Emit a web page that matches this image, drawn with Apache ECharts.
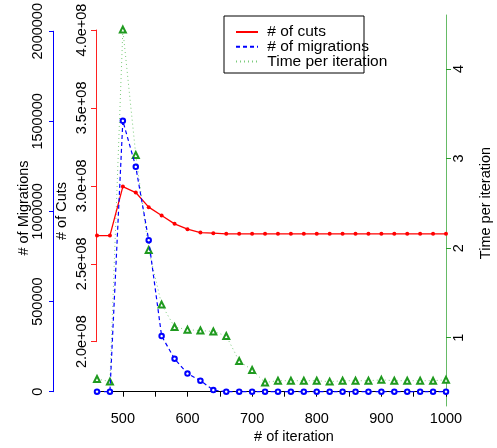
<!DOCTYPE html>
<html>
<head>
<meta charset="utf-8">
<script src="https://cdn.jsdelivr.net/npm/echarts@6/dist/echarts.min.js"></script>
<style>html,body{margin:0;padding:0;background:#fff}#c{width:497px;height:448px}</style>
</head>
<body>
<div id="c"></div>
<script>
var iterations = [460,480,500,520,540,560,580,600,620,640,660,680,700,720,740,760,780,800,820,840,860,880,900,920,940,960,980,1000];
var cuts = [2.681e8,2.681e8,2.9955e8,2.957e8,2.8633e8,2.8094e8,2.7562e8,2.7222e8,2.7003e8,2.6965e8,2.692e8,2.692e8,2.692e8,2.692e8,2.692e8,2.692e8,2.692e8,2.692e8,2.692e8,2.692e8,2.692e8,2.692e8,2.692e8,2.692e8,2.692e8,2.692e8,2.692e8,2.692e8];
var migrations = [0,0,1495000,1241000,836000,307000,182000,100000,61000,9000,0,0,0,0,0,0,0,0,0,0,0,0,0,0,0,0,0,0];
var timePerIter = [0.54,0.51,4.44,3.04,1.98,1.37,1.12,1.09,1.08,1.07,1.02,0.74,0.64,0.50,0.52,0.52,0.52,0.52,0.51,0.52,0.52,0.52,0.53,0.52,0.52,0.52,0.52,0.53];
var xTicks = [500,550,600,650,700,750,800,850,900,950,1000];
var xLabels = [500,600,700,800,900,1000];
var timeTicks = [1,2,3,4];
var seriesNames = ['# of cuts','# of migrations','Time per iteration'];
var titles = {x:'# of iteration', mig:'# of Migrations', cuts:'# of Cuts', time:'Time per iteration'};

var FONT = 'Liberation Sans, Arial, sans-serif';
function pairs(ys){ return iterations.map(function(x,i){return [x, ys[i]];}); }
function plain(v){ return String(v); }

var chart = echarts.init(document.getElementById('c'), null, {renderer:'canvas'});
var labelStyle = {fontSize:14.5, fontFamily:FONT, color:'#000'};
chart.setOption({
  animation:false,
  backgroundColor:'#fff',
  grid:[
    {left:97, right:51, top:15, bottom:42},
    {left:53.5, width:1, top:29.3, height:362.4},
    {left:96.5, width:1, top:30, height:311.7}
  ],
  xAxis:[
    {type:'value', gridIndex:0, min:460, max:1000,
     axisLine:{lineStyle:{color:'#000', width:1}},
     axisTick:{show:true, length:5, customValues:xTicks, lineStyle:{color:'#000'}},
     axisLabel:Object.assign({customValues:xLabels, margin:5, formatter:plain}, labelStyle),
     splitLine:{show:false}},
    {type:'value', gridIndex:1, show:false, min:0, max:1},
    {type:'value', gridIndex:2, show:false, min:0, max:1}
  ],
  yAxis:[
    {type:'value', gridIndex:0, show:false, min:158.74e6, max:409.62e6},
    {type:'value', gridIndex:0, show:false, min:-78918, max:2078918},
    {type:'value', gridIndex:0, position:'right', min:0.2378, max:4.603,
     axisLine:{show:true, lineStyle:{color:'#66bb66', width:1}},
     axisTick:{show:true, length:5, customValues:timeTicks, lineStyle:{color:'#2a9a2a'}},
     axisLabel:Object.assign({customValues:timeTicks, rotate:90, margin:5, formatter:plain}, labelStyle),
     splitLine:{show:false}},
    {type:'value', gridIndex:1, position:'left', min:0, max:2000000, interval:500000,
     axisLine:{show:true, lineStyle:{color:'#0000ff', width:1}},
     axisTick:{show:true, length:4.5, lineStyle:{color:'#0000ff'}},
     axisLabel:Object.assign({rotate:90, margin:8, formatter:plain}, labelStyle),
     splitLine:{show:false}},
    {type:'value', gridIndex:2, position:'left', min:200000000, max:400000000, interval:50000000,
     axisLine:{show:true, lineStyle:{color:'#ff2020', width:1}},
     axisTick:{show:true, length:5.5, lineStyle:{color:'#ff2020'}},
     axisLabel:Object.assign({rotate:90, margin:7.5, formatter:function(v){return (v/1e8).toFixed(1)+'e+08';}}, labelStyle),
     splitLine:{show:false}}
  ],
  legend:{
    data:seriesNames, orient:'vertical', left:235, top:24, padding:0,
    itemWidth:22, itemHeight:10, itemGap:-1.3, selectedMode:false,
    itemStyle:{opacity:0},
    formatter:function(n){ return ' ' + n; },
    textStyle:{fontSize:15.5, fontFamily:FONT, color:'#000'}
  },
  graphic:[
    {type:'rect', shape:{x:224, y:16, width:140, height:57}, style:{fill:'none', stroke:'#000', lineWidth:1}, z:-1},
    {type:'text', x:24, y:208, rotation:Math.PI/2, style:{text:titles.mig, fontSize:14.5, fontFamily:FONT, fill:'#000', align:'center', verticalAlign:'middle'}},
    {type:'text', x:62, y:211, rotation:Math.PI/2, style:{text:titles.cuts, fontSize:14.5, fontFamily:FONT, fill:'#000', align:'center', verticalAlign:'middle'}},
    {type:'text', x:486, y:203, rotation:Math.PI/2, style:{text:titles.time, fontSize:14.5, fontFamily:FONT, fill:'#000', align:'center', verticalAlign:'middle'}},
    {type:'text', x:294, y:437, style:{text:titles.x, fontSize:14.5, fontFamily:FONT, fill:'#000', align:'center', verticalAlign:'middle'}}
  ],
  series:[
    {name:seriesNames[0], type:'line', xAxisIndex:0, yAxisIndex:0, data:pairs(cuts),
     symbol:'circle', symbolSize:4, itemStyle:{color:'#ff0000'},
     lineStyle:{color:'#ff0000', width:1.3, type:'solid'}, z:3},
    {name:seriesNames[1], type:'line', xAxisIndex:0, yAxisIndex:1, data:pairs(migrations),
     symbol:'emptyCircle', symbolSize:4.5, itemStyle:{color:'#0000ff', borderWidth:1},
     lineStyle:{color:'#0000ff', width:1.2, type:[4,3]}, z:4},
    {name:seriesNames[2], type:'line', xAxisIndex:0, yAxisIndex:2, data:pairs(timePerIter),
     symbol:'emptyTriangle', symbolSize:6, itemStyle:{color:'#1f9a1f', borderWidth:1},
     lineStyle:{color:'#7ccc7c', width:1, type:[1,3]}, z:2}
  ]
});
</script>
</body>
</html>
